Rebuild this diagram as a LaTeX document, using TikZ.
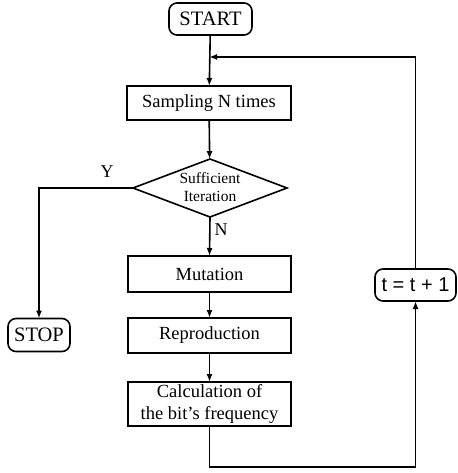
\documentclass[tikz,border=0pt]{standalone}
\usepackage{fontspec}
\setmainfont{Liberation Serif}
\newfontfamily\sumfont{Liberation Sans}
\usetikzlibrary{shapes.geometric,arrows.meta}
\begin{document}
\begin{tikzpicture}[x=1pt,y=-1pt,
  line width=1.6pt,
  every node/.style={inner sep=0pt, outer sep=0pt},
  procbox/.style={draw, rectangle, minimum width=163pt, font=\fontsize{18.5}{22}\selectfont, align=center},
  termbox/.style={draw, rectangle, rounded corners=8pt, font=\fontsize{20.5}{24}\selectfont},
  flow/.style={-{Latex[length=8pt,width=6pt]}},
  tag/.style={font=\fontsize{18}{20}\selectfont}]
  \useasboundingbox (0,0) rectangle (457,473);

  % terminals
  \node[termbox, minimum width=83pt, minimum height=32pt] (start) at (210.5,19) {START};
  \node[termbox, minimum width=62pt, minimum height=33pt] (stop) at (39,335) {STOP};
  \node[termbox, minimum width=81pt, minimum height=32pt, font=\sumfont\fontsize{20}{22}\selectfont] (tinc) at (415.5,285) {t = t + 1};

  % process steps
  \node[procbox, minimum width=164pt, minimum height=34pt] (samp) at (209,103) {Sampling N times};
  \node[draw, diamond, minimum width=154pt, minimum height=58pt] (dec) at (210,188) {};
  \node[font=\fontsize{15.5}{18}\selectfont, align=center] (dectext) at (210,187) {Sufficient\\Iteration};
  \node[procbox, minimum height=36pt] (mut) at (209.5,274) {Mutation};
  \node[procbox, minimum height=35pt] (rep) at (209.5,335.5) {Reproduction};
  \node[procbox, minimum height=44pt] (calc) at (209.5,404) {Calculation of\\the bit’s frequency};

  % loop return point on the main axis
  \coordinate (join) at (209,57);

  % connectors
  \draw[flow] (start) -- (samp);
  \draw[flow] (samp) -- (dec);
  \draw[flow] (dec.west) -| (stop.north);
  \draw[flow] (dec.south) -- (mut.north);
  \draw[flow] (mut) -- (rep);
  \draw[flow] (rep) -- (calc);
  \draw[flow] (calc.south) -- ++(0,41) -| (tinc.south);
  \draw[flow] (tinc.north) |- (join);

  % branch labels
  \node[tag] (ylab) at (107,172) {Y};
  \node[tag] (nlab) at (221,230) {N};
\end{tikzpicture}
\end{document}
